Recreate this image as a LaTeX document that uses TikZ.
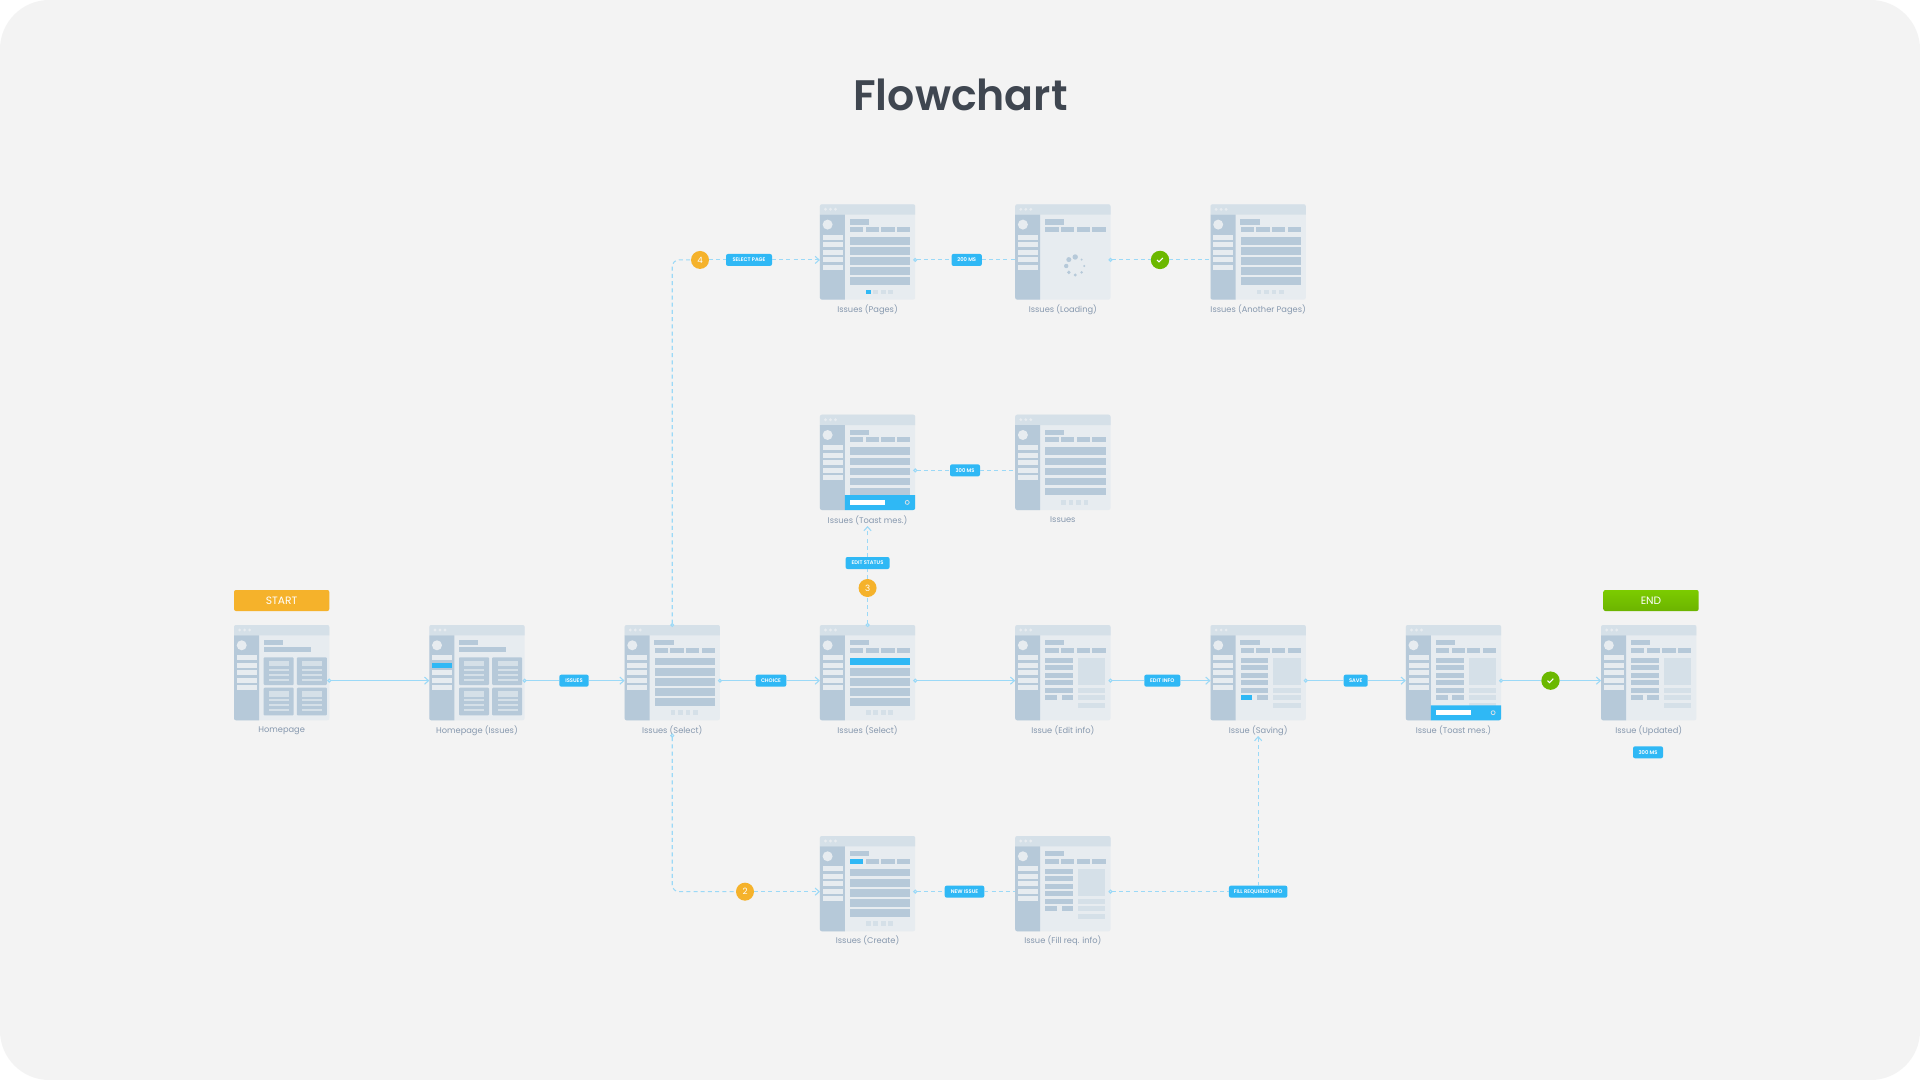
\documentclass[tikz,border=0pt]{standalone}
\usepackage{fontspec}
\setmainfont{Poppins}[BoldFont={Poppins SemiBold}]
\usetikzlibrary{arrows.meta, calc}

\definecolor{pagebg}{HTML}{F3F3F3}
\definecolor{bodygrey}{HTML}{E7ECF0}
\definecolor{headgrey}{HTML}{D5E0E8}
\definecolor{slateblue}{HTML}{B6C9D9}
\definecolor{accent}{HTML}{2FB8F5}
\definecolor{linkblue}{HTML}{9BD9F7}
\definecolor{orangefill}{HTML}{F5B22B}
\definecolor{greenfill}{HTML}{6BB800}
\definecolor{endgreen}{HTML}{7CCB00}
\definecolor{endgreenlow}{HTML}{6CB400}
\definecolor{captiongrey}{HTML}{8698AE}
\definecolor{titlegrey}{HTML}{3F4650}

\newcommand{\linedrop}{6pt}

%% Parts of a screen, in pixels from its top left corner
\newcommand{\screenchrome}{
  \fill[headgrey] (0,10.3) [rounded corners=1.5pt] -- (0,0) -- (95.3,0) [sharp corners] -- (95.3,10.3) -- cycle;
  \fill[slateblue] (0,10.3) -- (25,10.3) -- (25,95.3) [rounded corners=1.5pt] -- (0,95.3) [sharp corners] -- cycle;
  \foreach \dotx in {5.6,10.6,15.6} \fill[bodygrey] (\dotx,5) circle (1.6);
  \fill[bodygrey] (7.7,20.3) circle (5);
  \foreach \itemy in {30.3,37.8,45.3,52.8,60.3} \fill[bodygrey] (2.7,\itemy) rectangle ++(20,5);
  \fill[slateblue] (29.7,15) rectangle (49,20.3);
}
\newcommand{\screentabs}{
  \foreach \tabx in {30,45.7,61.3,77} \fill[slateblue] (\tabx,22.7) rectangle ++(13.3,5);
}

\tikzset{
  homebody/.pic={
    \screenchrome
    \fill[slateblue] (29.7,22.3) rectangle (77,27.3);
    \foreach \cardx in {29.7,62.9} \foreach \cardy in {32.3,62.7} {
      \fill[slateblue, rounded corners=.7pt] (\cardx,\cardy) rectangle ++(30,27.7);
      \fill[headgrey] (\cardx+5.3,\cardy+3.7) rectangle ++(20,5.3);
      \foreach \liney in {11.4,16.4,21.4} \fill[headgrey] (\cardx+5.3,\cardy+\liney) rectangle ++(20,2.3);
    }
  },
  listbody/.pic={
    \screenchrome
    \screentabs
    \foreach \rowy in {32.7,42.8,53,63,73} \fill[slateblue] (30,\rowy) rectangle ++(60.3,7.7);
    \foreach \pagex in {46,53.4,61,68.4} \fill[headgrey] (\pagex,85.3) rectangle ++(4.7,4.7);
  },
  formbody/.pic={
    \screenchrome
    \screentabs
    \foreach \rowy in {32.7,40.3,47.7,55.3,62.7} \fill[slateblue] (30,\rowy) rectangle ++(27.7,5);
    \fill[slateblue] (30,70.3) rectangle ++(11.7,5);
    \fill[slateblue] (46.3,70.3) rectangle ++(11.4,5);
    \fill[headgrey] (62.7,32.7) rectangle (90,60.3);
    \foreach \rowy in {62.7,70.3,77.7} \fill[headgrey] (62.7,\rowy) rectangle ++(27.3,5);
  },
  loadingbody/.pic={
    \screenchrome
    \screentabs
    \fill[slateblue] (60,52.7) circle (2.7);
    \fill[slateblue] (53.6,55.3) circle (2.5);
    \fill[slateblue] (51,61.7) circle (2.2);
    \fill[slateblue] (53.6,68.1) circle (1.9);
    \fill[slateblue] (60,70.7) circle (1.6);
    \fill[slateblue] (66.4,68.1) circle (1.4);
    \fill[slateblue] (69,61.7) circle (1.2);
    \fill[slateblue] (66.4,55.3) circle (1.1);
  },
  toastbar/.pic={
    \fill[accent] (25,80.3) -- (95.3,80.3) [rounded corners=1.5pt] -- (95.3,95.3) [sharp corners] -- (25,95.3) -- cycle;
    \fill[white] (30,85.3) rectangle (65,90.3);
    \draw[headgrey, line width=.6pt] (87.3,87.7) circle (2);
  },
}

\begin{document}
\begin{tikzpicture}[
  x=0.75pt, y=-0.75pt,
  screen/.style  = {fill=bodygrey, rounded corners=1.5pt, inner sep=0pt, outer sep=0pt,
                    minimum size=71.475pt},
  caption/.style = {font=\fontsize{6.2}{8}\selectfont, text=captiongrey, inner sep=0pt},
  tag/.style     = {fill=accent, rounded corners=1.5pt, text=white, inner sep=0pt, outer sep=0pt,
                    minimum height=9pt, font=\fontsize{3.9}{5}\selectfont\bfseries},
  stepdot/.style = {circle, fill=orangefill, text=white, inner sep=0pt, outer sep=0pt,
                    minimum size=13.5pt, font=\fontsize{6.5}{8}\selectfont},
  okdot/.style   = {circle, fill=greenfill, inner sep=0pt, outer sep=0pt, minimum size=13.8pt},
  tick/.style    = {draw=white, line width=.8pt},
  flag/.style    = {rounded corners=1.5pt, text=white, inner sep=0pt, outer sep=0pt,
                    minimum width=71.475pt, minimum height=15.75pt,
                    font=\fontsize{8}{10}\selectfont},
  flow/.style    = {draw=linkblue, line width=.8pt},
  dashflow/.style= {flow, dash pattern=on 3pt off 2.4pt},
  dotstart/.style= {arrows={Circle[open, fill=pagebg, length=3pt, width=3pt]-}, shorten <=-1.5pt},
  barbend/.style = {arrows={-Straight Barb[length=3pt, width=5.4pt]}},
  dotbarb/.style = {arrows={Circle[open, fill=pagebg, length=3pt, width=3pt]-Straight Barb[length=3pt, width=5.4pt]},
                    shorten <=-1.5pt},
]
\useasboundingbox (0,0) rectangle (1920,1080);
\fill[white] (0,0) rectangle (1920,1080);
\fill[pagebg, rounded corners=37pt] (0,0) rectangle (1920,1080);

%% Title
\node[font=\fontsize{32}{36}\selectfont\bfseries, text=titlegrey] (title) at (960.5,95) {Flowchart};

%% Main row
\node[flag, fill=orangefill] (start) at (281.65,600.5) {START};
\node[flag, top color=endgreen, bottom color=endgreenlow] (end) at (1651,600.5) {END};

\node[screen] (home) at (281.65,672.65) {};
\pic at (home.north west) {homebody};
\node[caption] (homelabel) at (281.65,730.8) {Homepage};

\node[screen] (homeissues) at (476.95,672.65) {};
\pic at (homeissues.north west) {homebody};
\fill[accent] ([shift={(2.7,37.8)}]homeissues.north west) rectangle ++(20,5);
\node[caption] (homeissueslabel) at (476.95,730.8) {Homepage (Issues)};

\node[screen] (select) at (672.25,672.65) {};
\pic at (select.north west) {listbody};
\node[caption] (selectlabel) at (672.25,730.8) {Issues (Select)};

\node[screen] (selectrow) at (867.55,672.65) {};
\pic at (selectrow.north west) {listbody};
\fill[accent] ([shift={(30,32.7)}]selectrow.north west) rectangle ++(60.3,7.7);
\node[caption] (selectrowlabel) at (867.55,730.8) {Issues (Select)};

\node[screen] (editinfo) at (1062.85,672.65) {};
\pic at (editinfo.north west) {formbody};
\node[caption] (editinfolabel) at (1062.85,730.8) {Issue (Edit info)};

\node[screen] (saving) at (1258.15,672.65) {};
\pic at (saving.north west) {formbody};
\fill[accent] ([shift={(30,70.3)}]saving.north west) rectangle ++(11.7,5);
\node[caption] (savinglabel) at (1258.15,730.8) {Issue (Saving)};

\node[screen] (issuetoast) at (1453.45,672.65) {};
\pic at (issuetoast.north west) {formbody};
\pic at (issuetoast.north west) {toastbar};
\node[caption] (issuetoastlabel) at (1453.45,730.8) {Issue (Toast mes.)};

\node[screen] (updated) at (1648.75,672.65) {};
\pic at (updated.north west) {formbody};
\node[caption] (updatedlabel) at (1648.75,730.8) {Issue (Updated)};

%% Top row
\node[screen] (pages) at (867.55,251.95) {};
\pic at (pages.north west) {listbody};
\fill[accent] ([shift={(46,85.3)}]pages.north west) rectangle ++(4.7,4.7);
\node[caption] (pageslabel) at (867.55,309.5) {Issues (Pages)};

\node[screen] (loading) at (1062.85,251.95) {};
\pic at (loading.north west) {loadingbody};
\node[caption] (loadinglabel) at (1062.85,309.5) {Issues (Loading)};

\node[screen] (anotherpages) at (1258.15,251.95) {};
\pic at (anotherpages.north west) {listbody};
\node[caption] (anotherpageslabel) at (1258.15,309.5) {Issues (Another Pages)};

%% Second row
\node[screen] (statustoast) at (867.55,462.35) {};
\pic at (statustoast.north west) {listbody};
\pic at (statustoast.north west) {toastbar};
\node[caption] (statustoastlabel) at (867.55,520) {Issues (Toast mes.)};

\node[screen] (issuesplain) at (1062.85,462.35) {};
\pic at (issuesplain.north west) {listbody};
\node[caption] (issuesplainlabel) at (1062.85,520) {Issues};

%% Bottom row
\node[screen] (create) at (867.55,883.65) {};
\pic at (create.north west) {listbody};
\fill[accent] ([shift={(30,22.7)}]create.north west) rectangle ++(13.3,5);
\node[caption] (createlabel) at (867.55,940.5) {Issues (Create)};

\node[screen] (fillinfo) at (1062.85,883.65) {};
\pic at (fillinfo.north west) {formbody};
\node[caption] (fillinfolabel) at (1062.85,940.5) {Issue (Fill req. info)};

%% Tags and step marks
\node[tag, minimum width=22pt] (tagissues)   at (574,680.65) {ISSUES};
\node[tag, minimum width=23pt] (tagchoice)   at (771,680.65) {CHOICE};
\node[tag, minimum width=27pt] (tagedit)     at (1162.3,680.65) {EDIT INFO};
\node[tag, minimum width=18pt] (tagsave)     at (1355.7,680.65) {SAVE};
\node[tag, minimum width=22.5pt] (tagdelayd) at (1648,752.3) {300 MS};
\node[tag, minimum width=34.5pt] (tagpage)   at (749,259.95) {SELECT PAGE};
\node[tag, minimum width=22.7pt] (tagdelaya) at (966.7,259.95) {200 MS};
\node[tag, minimum width=22.5pt] (tagdelayb) at (965,470.35) {300 MS};
\node[tag, minimum width=33pt] (tagstatus)   at (867.55,563) {EDIT STATUS};
\node[tag, minimum width=29.7pt] (tagnew)    at (964.5,891.65) {NEW ISSUE};
\node[tag, minimum width=43.8pt] (tagfill)   at (1258.15,891.65) {FILL REQUIRED INFO};

\node[stepdot] (stepfour)  at (700,259.95) {4};
\node[stepdot] (stepthree) at (867.55,588) {3};
\node[stepdot] (steptwo)   at (745,891.65) {2};

\node[okdot] (okmain) at (1550.5,680.65) {};
\draw[tick] ([shift={(-3,0)}]okmain.center) -- ++(2,2) -- ++(3.8,-4);
\node[okdot] (oktop)  at (1160,259.95) {};
\draw[tick] ([shift={(-3,0)}]oktop.center) -- ++(2,2) -- ++(3.8,-4);

%% Free ends
\coordinate (selectdown)  at (672.25,735.7);
\coordinate (statusend)   at (867.55,526);
\coordinate (savingend)   at (1258.15,736);

%% Main row links
\draw[flow, dotbarb] ([yshift=-\linedrop]home.east) -- ([yshift=-\linedrop]homeissues.west);
\draw[flow, dotstart] ([yshift=-\linedrop]homeissues.east) -- (tagissues.west);
\draw[flow, barbend] (tagissues.east) -- ([yshift=-\linedrop]select.west);
\draw[flow, dotstart] ([yshift=-\linedrop]select.east) -- (tagchoice.west);
\draw[flow, barbend] (tagchoice.east) -- ([yshift=-\linedrop]selectrow.west);
\draw[flow, dotbarb] ([yshift=-\linedrop]selectrow.east) -- ([yshift=-\linedrop]editinfo.west);
\draw[flow, dotstart] ([yshift=-\linedrop]editinfo.east) -- (tagedit.west);
\draw[flow, barbend] (tagedit.east) -- ([yshift=-\linedrop]saving.west);
\draw[flow, dotstart] ([yshift=-\linedrop]saving.east) -- (tagsave.west);
\draw[flow, barbend] (tagsave.east) -- ([yshift=-\linedrop]issuetoast.west);
\draw[flow, dotstart] ([yshift=-\linedrop]issuetoast.east) -- (okmain.west);
\draw[flow, barbend] (okmain.east) -- ([yshift=-\linedrop]updated.west);

%% Branch to pages
\draw[dashflow, dotstart, rounded corners=5pt] (select.north) |- (stepfour.west);
\draw[dashflow] (stepfour.east) -- (tagpage.west);
\draw[dashflow, barbend] (tagpage.east) -- ([yshift=-\linedrop]pages.west);
\draw[dashflow, dotstart] ([yshift=-\linedrop]pages.east) -- (tagdelaya.west);
\draw[dashflow] (tagdelaya.east) -- ([yshift=-\linedrop]loading.west);
\draw[dashflow, dotstart] ([yshift=-\linedrop]loading.east) -- (oktop.west);
\draw[dashflow] (oktop.east) -- ([yshift=-\linedrop]anotherpages.west);

%% Branch to toast
\draw[dashflow, dotstart] (selectrow.north) -- (stepthree.south);
\draw[dashflow] (stepthree.north) -- (tagstatus.south);
\draw[dashflow, barbend] (tagstatus.north) -- (statusend);
\draw[dashflow, dotstart] ([yshift=-\linedrop]statustoast.east) -- (tagdelayb.west);
\draw[dashflow] (tagdelayb.east) -- ([yshift=-\linedrop]issuesplain.west);

%% Branch to create
\draw[dashflow, dotstart, rounded corners=5pt] (selectdown) |- (steptwo.west);
\draw[dashflow, barbend] (steptwo.east) -- ([yshift=-\linedrop]create.west);
\draw[dashflow, dotstart] ([yshift=-\linedrop]create.east) -- (tagnew.west);
\draw[dashflow] (tagnew.east) -- ([yshift=-\linedrop]fillinfo.west);
\draw[dashflow, dotstart] ([yshift=-\linedrop]fillinfo.east) -- (tagfill.west);
\draw[dashflow, barbend] (tagfill.north) -- (savingend);

\end{tikzpicture}
\end{document}
